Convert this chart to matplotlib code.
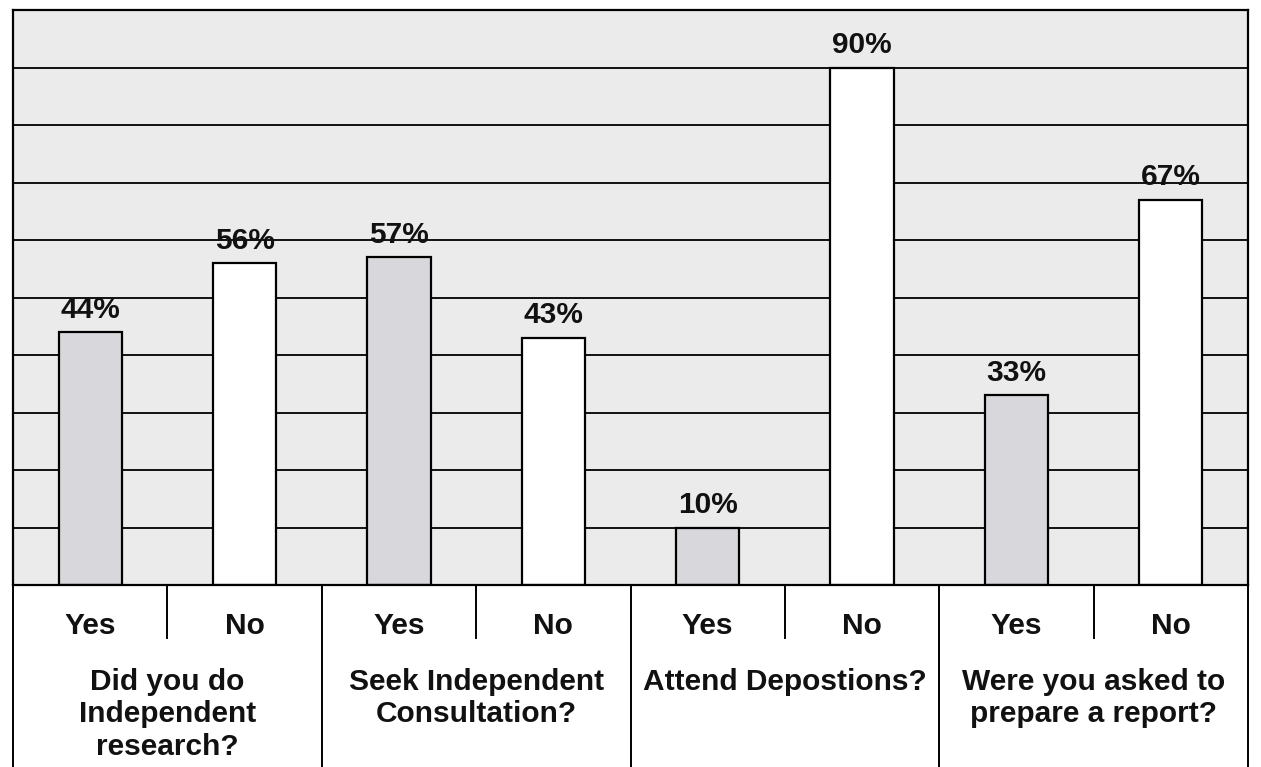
import matplotlib
matplotlib.use("Agg")
import matplotlib.pyplot as plt

plt.rcParams['font.family'] = ['Liberation Sans', 'DejaVu Sans']

# Survey answers, in percent
questions = ["Did you do\nIndependent\nresearch?",
             "Seek Independent\nConsultation?",
             "Attend Depostions?",
             "Were you asked to\nprepare a report?"]
answers = ["Yes", "No"]
yes_pct = [44, 57, 10, 33]
no_pct = [56, 43, 90, 67]
y_ticks = [10, 20, 30, 40, 50, 60, 70, 80, 90]

W, H = 1261, 767
fig = plt.figure(figsize=(W / 100, H / 100), dpi=100)
fig.patch.set_facecolor("white")

left_px, right_px, top_px, bottom_px = 13, 1248, 10, 585
ax = fig.add_axes([left_px / W, 1 - bottom_px / H,
                   (right_px - left_px) / W, (bottom_px - top_px) / H])
ax.set_facecolor("#ebebeb")

values = []
colors = []
labels = []
for q, y, n in zip(questions, yes_pct, no_pct):
    values += [y, n]
    colors += ["#d8d8dc", "white"]
    labels += answers
xs = list(range(len(values)))

for yv in y_ticks:
    ax.axhline(yv, color="black", lw=1.3, zorder=1)

bars = ax.bar(xs, values, width=0.41, color=colors, edgecolor="black",
              linewidth=1.6, zorder=2)
for x, v in zip(xs, values):
    ax.annotate(f"{v}%", (x, v), xytext=(0, 6), textcoords="offset points",
                ha="center", va="bottom", fontsize=21.5, fontweight="bold",
                color="#111111")

ax.set_xlim(-0.5, len(values) - 0.5)
ax.set_ylim(0, 100)
ax.set_xticks([])
ax.set_yticks([])
for s in ax.spines.values():
    s.set_color("black")
    s.set_linewidth(1.6)

# Two-level category table below the plot
tr = ax.get_xaxis_transform()
fig_bottom = -(H - bottom_px) / (bottom_px - top_px)
sub_bottom = -(638 - bottom_px) / (bottom_px - top_px)
for xb in [-0.5, 1.5, 3.5, 5.5, 7.5]:
    ax.plot([xb, xb], [0, fig_bottom], transform=tr, color="black",
            lw=1.4, clip_on=False)
for xb in [0.5, 2.5, 4.5, 6.5]:
    ax.plot([xb, xb], [0, sub_bottom], transform=tr, color="black",
            lw=1.4, clip_on=False)

ans_y = -(626 - bottom_px) / (bottom_px - top_px)
for x, lab in zip(xs, labels):
    ax.text(x, ans_y, lab, transform=tr, ha="center", va="center",
            fontsize=21.5, fontweight="bold", color="#111111")

q_y = -(668 - bottom_px) / (bottom_px - top_px)
for i, q in enumerate(questions):
    ax.text(2 * i + 0.5, q_y, q, transform=tr, ha="center", va="top",
            fontsize=21.5, fontweight="bold", color="#111111",
            linespacing=1.2, multialignment="center")

fig.savefig("out.png", dpi=100)
